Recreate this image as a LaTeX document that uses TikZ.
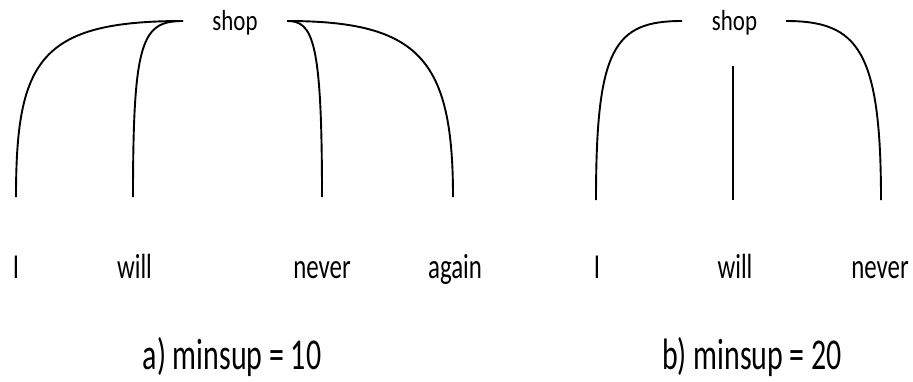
\documentclass[tikz,border=0pt]{standalone}
\usepackage{fontspec}
\setmainfont{Carlito}
\newcommand{\sqz}[2]{\scalebox{#1}[1]{#2}}
\begin{document}
\begin{tikzpicture}[x=1pt,y=-1pt,
  branch/.style={line width=1.9pt,line cap=butt},
  word/.style={inner sep=0pt,anchor=base,font=\fontsize{35}{35}\selectfont},
  rootword/.style={inner sep=0pt,anchor=base,font=\fontsize{29}{29}\selectfont},
  caption/.style={inner sep=0pt,anchor=base,font=\fontsize{44}{44}\selectfont}]
\useasboundingbox (0,0) rectangle (913,381);
% ---------- a) ----------
\node[rootword] (shopA) at (235,30) {\sqz{0.79}{shop}};
\coordinate (aL) at (183,21);
\coordinate (aR) at (287,21);
\coordinate (eI) at (16,197);
\coordinate (eWill) at (133,197);
\coordinate (eNever) at (322,197);
\coordinate (eAgain) at (453,197);
\draw[branch] (aL) .. controls (40,21) and (16,60) .. (eI);
\draw[branch] (aL) .. controls (142,21) and (133,40) .. (eWill);
\draw[branch] (aR) .. controls (313,21) and (322,40) .. (eNever);
\draw[branch] (aR) .. controls (420,21) and (453,60) .. (eAgain);
\node[word] (wI) at (16,278) {\sqz{0.71}{I}};
\node[word] (wWill) at (134.5,278) {\sqz{0.71}{will}};
\node[word] (wNever) at (322,278) {\sqz{0.71}{never}};
\node[word] (wAgain) at (455,278) {\sqz{0.71}{again}};
\node[caption] (capA) at (232,369) {\sqz{0.68}{a) minsup = 10}};
% ---------- b) ----------
\node[rootword] (shopB) at (734.5,30) {\sqz{0.79}{shop}};
\coordinate (bL) at (682,21);
\coordinate (bR) at (786,21);
\coordinate (bTop) at (733,66);
\coordinate (fI) at (596,200);
\coordinate (fWill) at (733,200);
\coordinate (fNever) at (881,200);
\draw[branch] (bL) .. controls (614,21) and (596,48) .. (fI);
\draw[branch] (bTop) -- (fWill);
\draw[branch] (bR) .. controls (858,21) and (881,50) .. (fNever);
\node[word] (vI) at (597,278) {\sqz{0.71}{I}};
\node[word] (vWill) at (735,278) {\sqz{0.71}{will}};
\node[word] (vNever) at (880,278) {\sqz{0.71}{never}};
\node[caption] (capB) at (752,369) {\sqz{0.68}{b) minsup = 20}};
\end{tikzpicture}
\end{document}
